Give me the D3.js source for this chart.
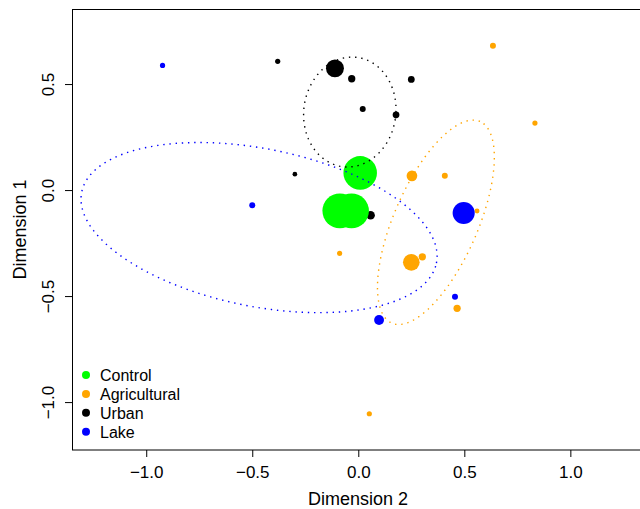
<!DOCTYPE html>
<html>
<head>
<meta charset="utf-8">
<script src="https://cdn.jsdelivr.net/npm/d3@7"></script>
<style>
  body { margin: 0; background: #fff; }
  svg { display: block; font-family: "Liberation Sans", Arial, Helvetica, sans-serif; }
</style>
</head>
<body>
<script>
'use strict';

var width = 640,
    height = 509;

// groups and their colours
var groups = ["Control", "Agricultural", "Urban", "Lake"];
var groupColors = ["#00ff00", "#ffa500", "#000000", "#0000ff"];

// site scores: dimension 2 (x), dimension 1 (y), point size (cex)
var urbanX = [-0.380, -0.110, -0.031, 0.250, 0.021, 0.178, -0.299, 0.058];
var urbanY = [0.607, 0.574, 0.525, 0.522, 0.382, 0.355, 0.075, -0.119];
var urbanCex = [1.0, 3.45, 1.4, 1.3, 1.15, 1.3, 0.9, 1.65];

var agriX = [0.635, 0.833, 0.253, 0.408, 0.560, -0.088, 0.250, 0.302, 0.466, 0.052];
var agriY = [0.681, 0.316, 0.067, 0.067, -0.099, -0.299, -0.341, -0.315, -0.558, -1.055];
var agriCex = [1.15, 1.0, 2.05, 1.15, 0.95, 1.0, 3.2, 1.4, 1.4, 1.0];

var lakeX = [-0.923, -0.500, 0.497, 0.456, 0.098];
var lakeY = [0.588, -0.072, -0.108, -0.503, -0.613];
var lakeCex = [1.0, 1.15, 4.25, 1.15, 1.9];

var controlX = [0.009, -0.087, -0.032];
var controlY = [0.081, -0.098, -0.098];
var controlCex = [6.45, 6.7, 6.7];

// group ellipses: centre, semi axes, rotation (degrees)
var ellipseGroup = ["Urban", "Agricultural", "Lake"];
var ellipseCx = [-0.040, 0.366, -0.468];
var ellipseCy = [0.368, -0.152, -0.177];
var ellipseA = [0.217, 0.519, 0.853];
var ellipseB = [0.260, 0.1975, 0.372];
var ellipseAngle = [-8, 66.4, -11.3];

var xTicks = [-1, -0.5, 0, 0.5, 1];
var yTicks = [-1, -0.5, 0, 0.5];

var color = d3.scaleOrdinal().domain(groups).range(groupColors);

var x = d3.scaleLinear().domain([-1.35, 1.352]).range([72, 645]);
var y = d3.scaleLinear().domain([-1.226, 0.854]).range([450, 9]);
var r = d3.scaleLinear().domain([0, 1]).range([0, 2.6]);

var svg = d3.select("body").append("svg")
  .attr("width", width)
  .attr("height", height);

function makeRows(group, xs, ys, cs) {
  return xs.map(function(d, i) {
    return {group: group, x: d, y: ys[i], cex: cs[i]};
  });
}

var sites = [].concat(
  makeRows("Urban", urbanX, urbanY, urbanCex),
  makeRows("Agricultural", agriX, agriY, agriCex),
  makeRows("Lake", lakeX, lakeY, lakeCex),
  makeRows("Control", controlX, controlY, controlCex)
);

// points
svg.append("g").selectAll("circle")
  .data(sites)
  .enter().append("circle")
  .attr("cx", function(d) { return x(d.x); })
  .attr("cy", function(d) { return y(d.y); })
  .attr("r", function(d) { return r(d.cex); })
  .attr("fill", function(d) { return color(d.group); });

// dotted ellipses, drawn over the points
var line = d3.line()
  .x(function(d) { return x(d[0]); })
  .y(function(d) { return y(d[1]); });

var ellipses = ellipseGroup.map(function(g, i) {
  var th = ellipseAngle[i] * Math.PI / 180,
      pts = [];
  for (var k = 0; k <= 200; k++) {
    var t = 2 * Math.PI * k / 200;
    pts.push([
      ellipseCx[i] + ellipseA[i] * Math.cos(th) * Math.cos(t) - ellipseB[i] * Math.sin(th) * Math.sin(t),
      ellipseCy[i] + ellipseA[i] * Math.sin(th) * Math.cos(t) + ellipseB[i] * Math.cos(th) * Math.sin(t)
    ]);
  }
  return {group: g, pts: pts};
});

svg.append("g").selectAll("path")
  .data(ellipses)
  .enter().append("path")
  .attr("d", function(d) { return line(d.pts); })
  .attr("fill", "none")
  .attr("stroke", function(d) { return color(d.group); })
  .attr("stroke-width", 1.4)
  .attr("stroke-dasharray", "1.4,4.8");

// frame
svg.append("rect")
  .attr("x", 72.5)
  .attr("y", 9.5)
  .attr("width", 573)
  .attr("height", 440.5)
  .attr("fill", "none")
  .attr("stroke", "#000")
  .attr("stroke-width", 1);

// axes
var fmt = d3.format(".1f");

var xAxis = svg.append("g")
  .attr("transform", "translate(0,450)")
  .call(d3.axisBottom(x).tickValues(xTicks).tickFormat(fmt).tickSize(7).tickPadding(9));
xAxis.select(".domain").remove();
xAxis.selectAll("text")
  .attr("font-size", 17)
  .attr("font-family", null)
  .attr("fill", "#000");

var yAxis = svg.append("g")
  .attr("transform", "translate(72,0)")
  .call(d3.axisLeft(y).tickValues(yTicks).tickFormat(fmt).tickSize(7));
yAxis.select(".domain").remove();
yAxis.selectAll("text")
  .attr("font-size", 17)
  .attr("font-family", null)
  .attr("fill", "#000")
  .attr("transform", "rotate(-90)")
  .attr("text-anchor", "middle")
  .attr("x", 0)
  .attr("y", -18)
  .attr("dy", 0);
svg.selectAll(".tick line").attr("stroke", "#000");

// axis titles
svg.append("text")
  .attr("x", 358)
  .attr("y", 505)
  .attr("text-anchor", "middle")
  .attr("font-size", 18)
  .text("Dimension 2");

svg.append("text")
  .attr("transform", "translate(26,229.5) rotate(-90)")
  .attr("text-anchor", "middle")
  .attr("font-size", 18)
  .text("Dimension 1");

// legend
var legend = svg.append("g").selectAll("g")
  .data(groups)
  .enter().append("g")
  .attr("transform", function(d, i) { return "translate(86," + (375 + i * 18.9) + ")"; });

legend.append("circle")
  .attr("r", 4)
  .attr("fill", function(d) { return color(d); });

legend.append("text")
  .attr("x", 14)
  .attr("y", 6)
  .attr("font-size", 16)
  .text(function(d) { return d; });
</script>
</body>
</html>
